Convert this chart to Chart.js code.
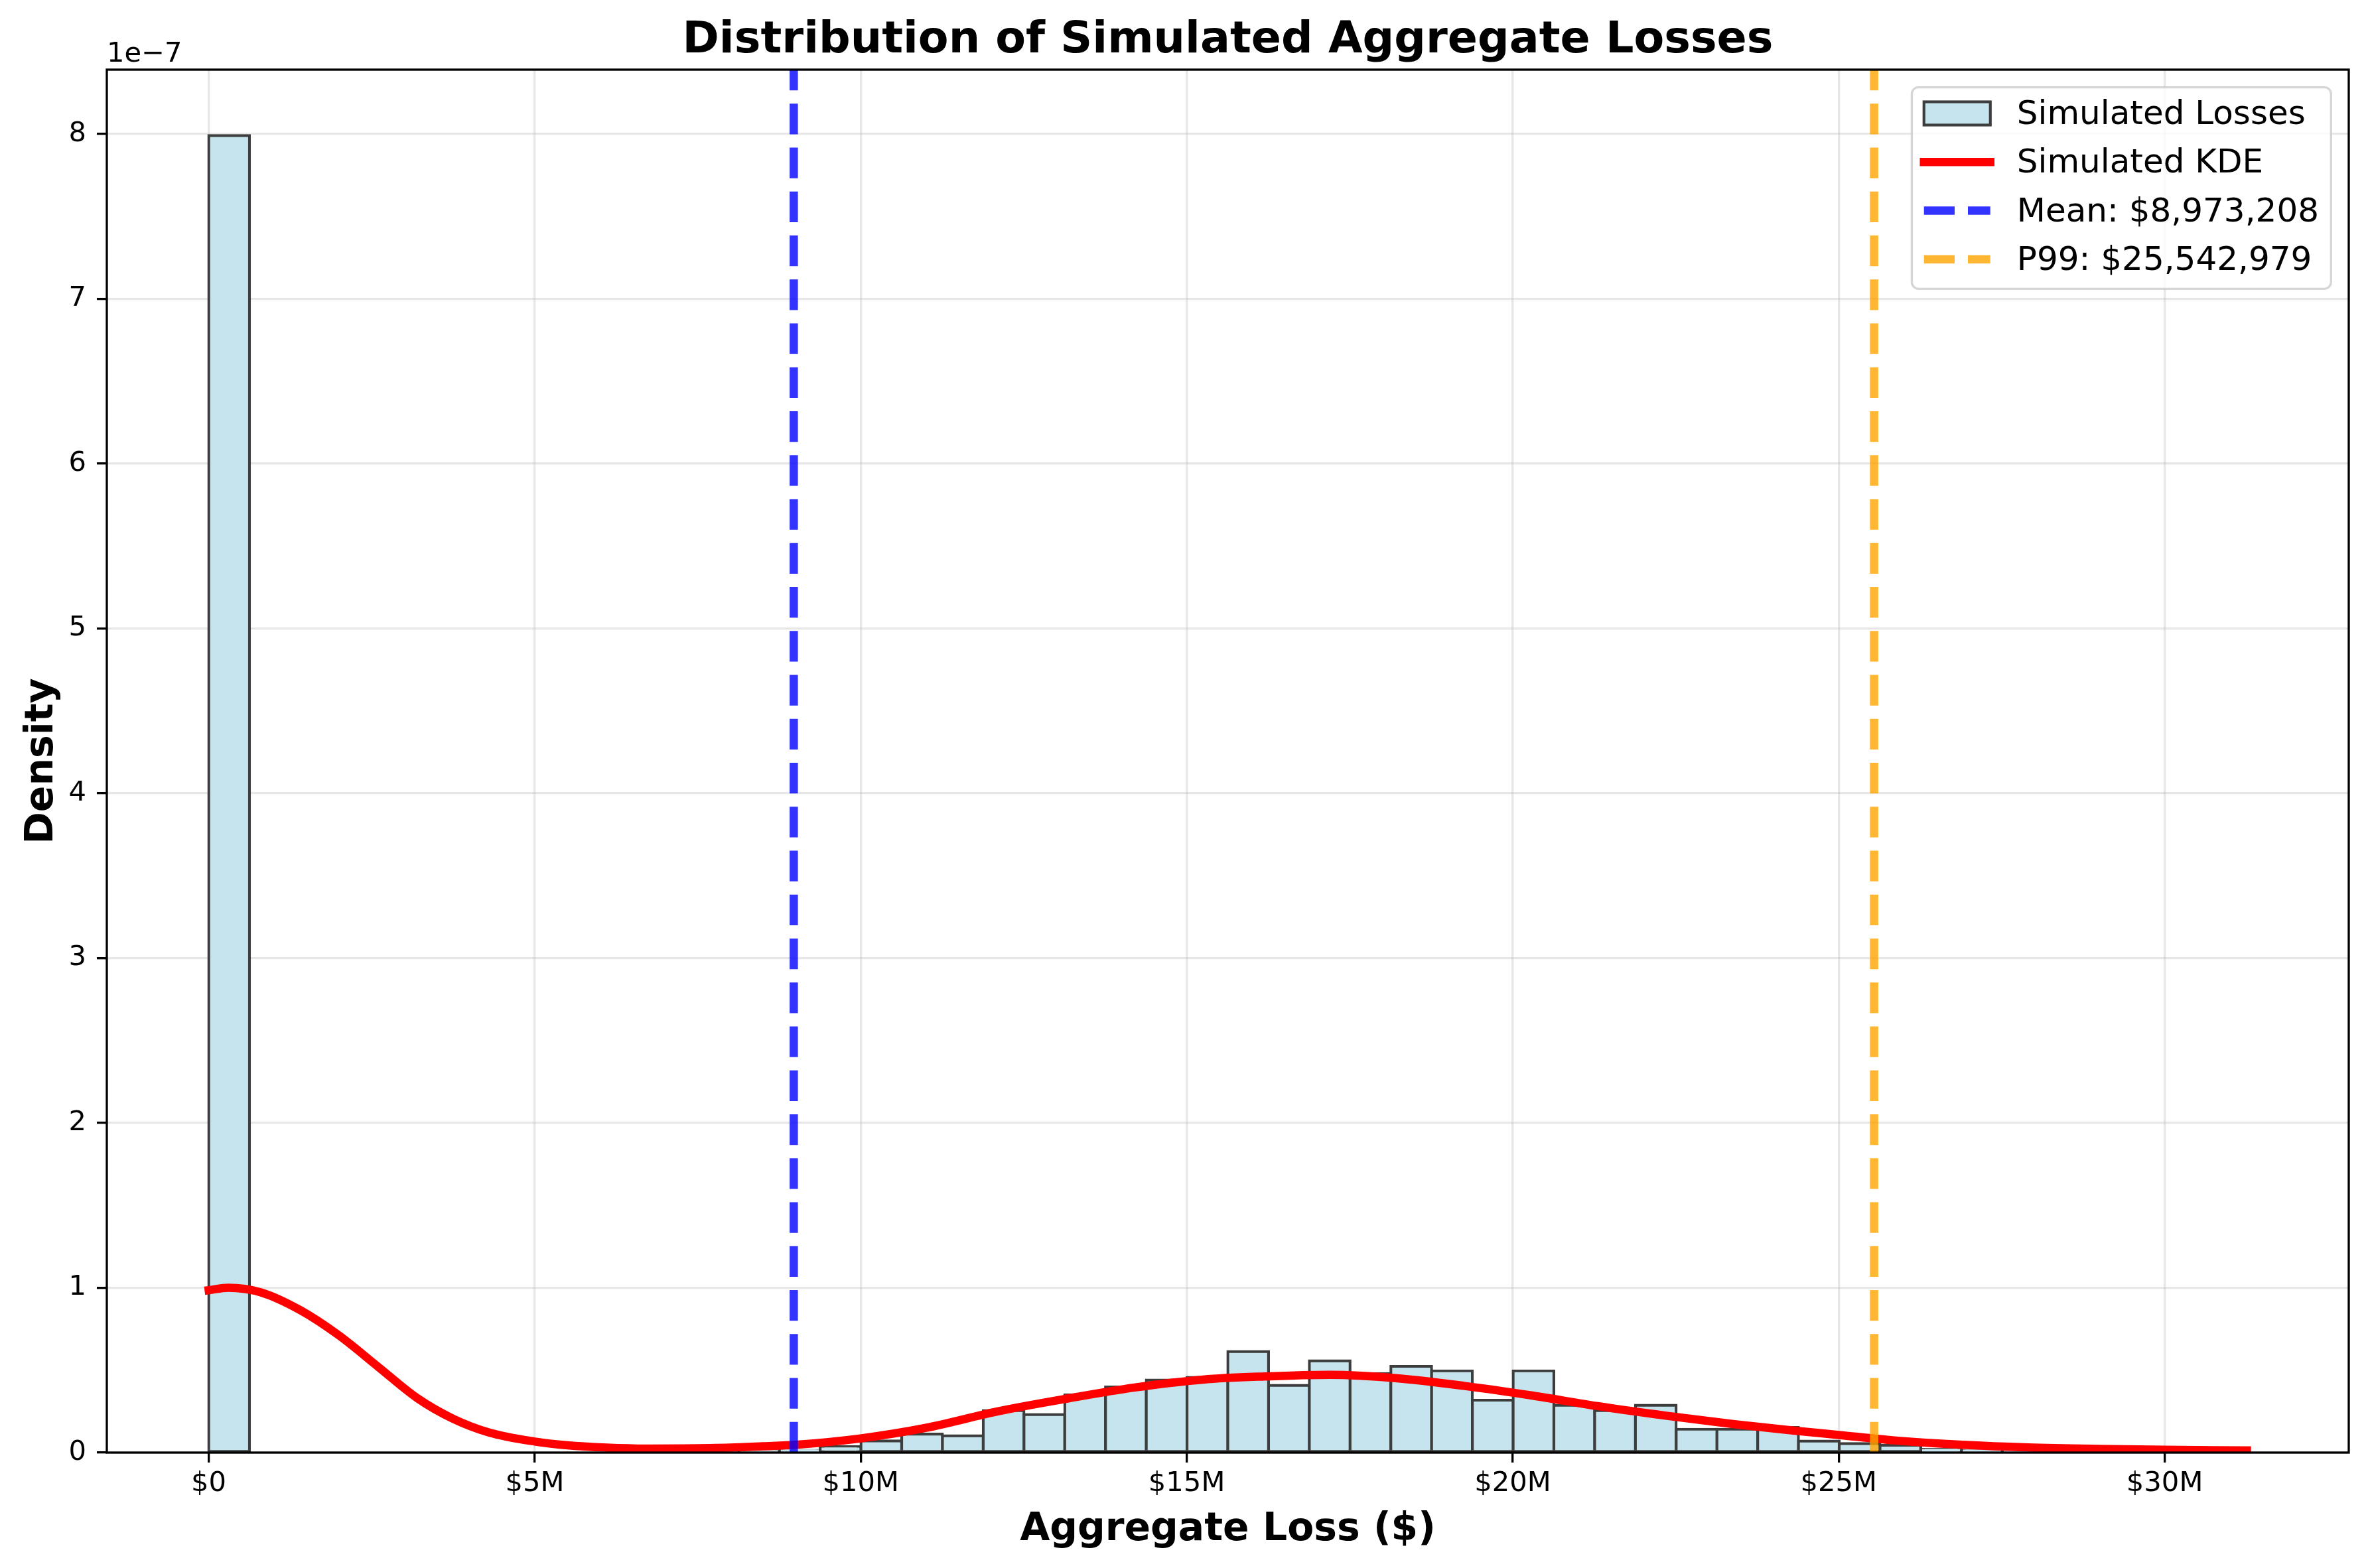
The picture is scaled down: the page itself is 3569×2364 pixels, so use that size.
<!DOCTYPE html>
<html>
<head>
<meta charset="utf-8">
<title>Distribution of Simulated Aggregate Losses</title>
<script src="https://cdn.jsdelivr.net/npm/chart.js@4.4.1/dist/chart.umd.min.js"></script>
<style>
  html, body { margin: 0; padding: 0; background: #fff; }
  #wrap { width: 3569px; height: 2364px; }
</style>
</head>
<body>
<div id="wrap"><canvas id="lossChart" width="3569" height="2364"></canvas></div>
<script>
// histogram: 50 equal bins starting at $0, density in units of 1e-7
var binStart = 0;
var binWidth = 625200;
var binDensity = [
  7.99, 0, 0, 0, 0, 0, 0, 0, 0, 0,
  0, 0, 0, 0.005, 0.014, 0.036, 0.071, 0.112, 0.102, 0.255,
  0.231, 0.351, 0.398, 0.44, 0.456, 0.613, 0.408, 0.557, 0.48, 0.523,
  0.496, 0.318, 0.496, 0.287, 0.255, 0.287, 0.142, 0.142, 0.153, 0.07,
  0.055, 0.045, 0.02, 0.012, 0.006, 0.004, 0.003, 0.002, 0.001, 0.001
];

// KDE curve ($M, density 1e-7)
var kdeLossM = [0, 0.3, 0.8, 1.4, 2.0, 2.6, 3.2, 3.75, 4.3, 5.0,
  5.5, 6.1, 6.7, 7.3, 8.0, 8.5, 9.0, 10.0, 11.0, 12.1,
  13.2, 14.2, 15.25, 16.2, 17.2, 18.2, 19.25, 20.3, 21.3, 22.35,
  23.4, 24.3, 25.0, 25.85, 26.9, 27.9, 29.0, 30.0, 31.26];
var kdeDensity = [0.985, 1.0, 0.972, 0.865, 0.71, 0.52, 0.33, 0.205, 0.122, 0.067,
  0.044, 0.03, 0.024, 0.025, 0.03, 0.038, 0.047, 0.086, 0.15, 0.25,
  0.33, 0.395, 0.443, 0.462, 0.472, 0.452, 0.405, 0.346, 0.282, 0.224,
  0.172, 0.134, 0.107, 0.074, 0.047, 0.031, 0.022, 0.017, 0.013];

var meanLoss = 8973208;
var p99Loss = 25542979;

var xTicks = [0, 5e6, 10e6, 15e6, 20e6, 25e6, 30e6];
var yTicks = [0, 1, 2, 3, 4, 5, 6, 7, 8];

var FONT = 'DejaVu Sans';
Chart.defaults.color = '#000';
Chart.defaults.font.family = FONT;

var binEnd = binStart + binDensity.length * binWidth;
var xPad = (binEnd - binStart) * 0.05;
var yMax = Math.max.apply(null, binDensity) * 1.05;

var histPoints = binDensity.map(function(v, i) {
  return { x: binStart + (i + 0.5) * binWidth, y: v };
});
var kdePoints = kdeLossM.map(function(m, i) {
  return { x: m * 1e6, y: kdeDensity[i] };
});

function money(v) {
  return '$' + v.toLocaleString('en-US');
}

var gridColor = 'rgba(176,176,176,0.3)';

// spines, offset text and a matplotlib-like legend box
var frameAndLegend = {
  id: 'frameAndLegend',
  afterDatasetsDraw: function(chart) {
    var ctx = chart.ctx, a = chart.chartArea;
    ctx.save();
    ctx.strokeStyle = '#000';
    ctx.lineWidth = 3.33;
    ctx.strokeRect(a.left, a.top, a.right - a.left, a.bottom - a.top);
    ctx.fillStyle = '#000';
    ctx.font = '41.67px "' + FONT + '"';
    ctx.textAlign = 'left';
    ctx.textBaseline = 'alphabetic';
    ctx.fillText('1e\u22127', a.left, a.top - 12);
    ctx.restore();
  },
  afterDraw: function(chart) {
    var ctx = chart.ctx, a = chart.chartArea, ds = chart.data.datasets;
    var fs = 50, pad = 20, handleLen = 100, textPad = 40, rowGap = 73.3;
    ctx.save();
    ctx.font = fs + 'px "' + FONT + '"';
    var maxW = 0;
    ds.forEach(function(d) { maxW = Math.max(maxW, ctx.measureText(d.label).width); });
    var w = pad + handleLen + textPad + maxW + pad;
    var h = 307;
    var right = a.right - 25, top = a.top + 25, left = right - w;

    // frame
    var r = 10, x0 = left + 1.67, y0 = top + 1.67, x1 = right - 1.67, y1 = top + h - 1.67;
    ctx.beginPath();
    ctx.moveTo(x0 + r, y0);
    ctx.lineTo(x1 - r, y0);
    ctx.arcTo(x1, y0, x1, y0 + r, r);
    ctx.lineTo(x1, y1 - r);
    ctx.arcTo(x1, y1, x1 - r, y1, r);
    ctx.lineTo(x0 + r, y1);
    ctx.arcTo(x0, y1, x0, y1 - r, r);
    ctx.lineTo(x0, y0 + r);
    ctx.arcTo(x0, y0, x0 + r, y0, r);
    ctx.closePath();
    ctx.fillStyle = 'rgba(255,255,255,0.8)';
    ctx.fill();
    ctx.strokeStyle = 'rgba(204,204,204,0.8)';
    ctx.lineWidth = 3.33;
    ctx.stroke();

    var hx = left + pad;
    ds.forEach(function(d, i) {
      var cy = top + 41 + i * rowGap;
      if (d.type === 'bar') {
        ctx.fillStyle = d.backgroundColor;
        ctx.fillRect(hx, cy - 17.5, handleLen, 35);
        ctx.strokeStyle = d.borderColor;
        ctx.lineWidth = 4.17;
        ctx.strokeRect(hx, cy - 17.5, handleLen, 35);
      } else {
        ctx.beginPath();
        ctx.strokeStyle = d.borderColor;
        ctx.lineWidth = d.borderWidth;
        ctx.setLineDash(d.borderDash || []);
        ctx.lineCap = d.borderDash ? 'butt' : 'square';
        ctx.moveTo(hx, cy);
        ctx.lineTo(hx + handleLen, cy);
        ctx.stroke();
        ctx.setLineDash([]);
      }
      ctx.fillStyle = '#000';
      ctx.textAlign = 'left';
      ctx.textBaseline = 'middle';
      ctx.fillText(d.label, hx + handleLen + textPad, cy + 3);
    });
    ctx.restore();
  }
};

new Chart(document.getElementById('lossChart'), {
  type: 'bar',
  data: {
    datasets: [
      {
        type: 'bar',
        label: 'Simulated Losses',
        data: histPoints,
        backgroundColor: 'rgb(198,228,238)',
        borderColor: '#3d3d3d',
        borderWidth: 4.17,
        borderSkipped: false,
        inflateAmount: 2.08,
        barPercentage: 1,
        categoryPercentage: 1,
        order: 4
      },
      {
        type: 'line',
        label: 'Simulated KDE',
        data: kdePoints,
        borderColor: '#ff0000',
        borderWidth: 12.5,
        borderCapStyle: 'square',
        cubicInterpolationMode: 'monotone',
        pointRadius: 0,
        fill: false,
        order: 3
      },
      {
        type: 'line',
        label: 'Mean: ' + money(meanLoss),
        data: [{ x: meanLoss, y: 0 }, { x: meanLoss, y: yMax }],
        borderColor: 'rgba(0,0,255,0.8)',
        borderWidth: 12.5,
        borderDash: [46.25, 20],
        borderCapStyle: 'butt',
        pointRadius: 0,
        fill: false,
        order: 2
      },
      {
        type: 'line',
        label: 'P99: ' + money(p99Loss),
        data: [{ x: p99Loss, y: 0 }, { x: p99Loss, y: yMax }],
        borderColor: 'rgba(255,165,0,0.8)',
        borderWidth: 12.5,
        borderDash: [46.25, 20],
        borderCapStyle: 'butt',
        pointRadius: 0,
        fill: false,
        order: 1
      }
    ]
  },
  options: {
    responsive: false,
    devicePixelRatio: 1,
    animation: false,
    events: [],
    layout: { padding: { left: 0, right: 29, top: 0, bottom: 0 } },
    plugins: {
      legend: { display: false },
      tooltip: { enabled: false },
      title: {
        display: true,
        text: 'Distribution of Simulated Aggregate Losses',
        color: '#000',
        fullSize: false,
        font: { family: FONT, size: 66.67, weight: 'bold', lineHeight: 1.2 },
        padding: { top: 22, bottom: 3 }
      }
    },
    scales: {
      x: {
        type: 'linear',
        min: binStart - xPad,
        max: binEnd + xPad,
        offset: false,
        border: { display: false },
        grid: {
          offset: false, color: gridColor, lineWidth: 3.33,
          drawTicks: true, tickLength: 15, tickColor: '#000', tickWidth: 3.33
        },
        afterBuildTicks: function(s) { s.ticks = xTicks.map(function(v) { return { value: v }; }); },
        afterFit: function(s) { s.height = 174; },
        ticks: {
          padding: 7, autoSkip: false, maxRotation: 0, color: '#000',
          font: { family: FONT, size: 41.67 },
          callback: function(v) { return v === 0 ? '$0' : '$' + (v / 1e6).toFixed(0) + 'M'; }
        },
        title: {
          display: true, text: 'Aggregate Loss ($)', color: '#000',
          font: { family: FONT, size: 58.33, weight: 'bold', lineHeight: 1.2 },
          padding: { top: 0, bottom: 22 }
        }
      },
      y: {
        type: 'linear',
        min: 0,
        max: yMax,
        border: { display: false },
        grid: {
          color: gridColor, lineWidth: 3.33,
          drawTicks: true, tickLength: 15, tickColor: '#000', tickWidth: 3.33
        },
        afterBuildTicks: function(s) { s.ticks = yTicks.map(function(v) { return { value: v }; }); },
        afterFit: function(s) { s.width = 161; },
        ticks: {
          padding: 16, color: '#000',
          font: { family: FONT, size: 41.67 },
          callback: function(v) { return String(v); }
        },
        title: {
          display: true, text: 'Density', color: '#000',
          font: { family: FONT, size: 58.33, weight: 'bold', lineHeight: 1.2 },
          padding: { top: 29, bottom: 0 }
        }
      }
    }
  },
  plugins: [frameAndLegend]
});
</script>
</body>
</html>
